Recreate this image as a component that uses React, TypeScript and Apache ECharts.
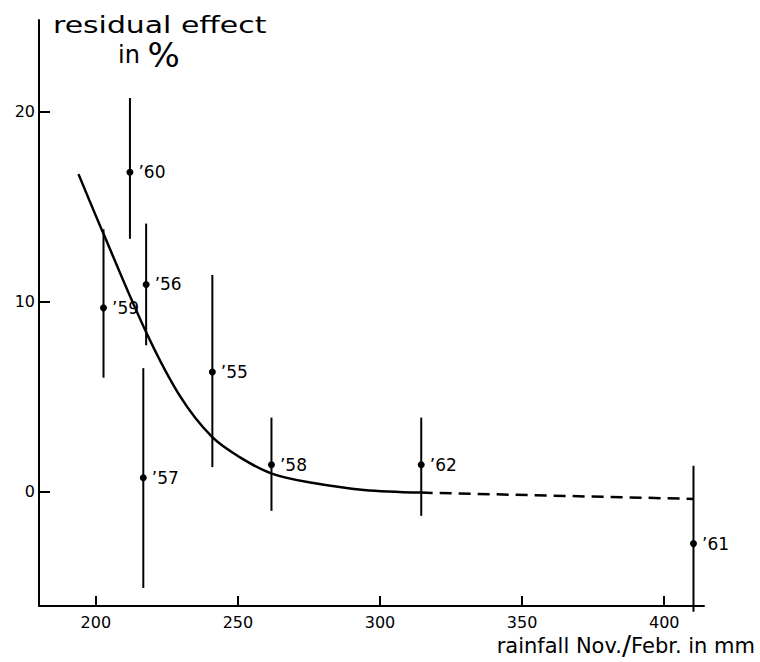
import React, { useEffect, useRef } from "react";
import * as echarts from "echarts";

const years = ["’55", "’56", "’57", "’58", "’59", "’60", "’61", "’62"];
const rainfall = [241, 217.7, 216.7, 261.8, 202.7, 212, 410.3, 314.5];
const effect = [6.3, 10.9, 0.74, 1.42, 9.67, 16.8, -2.72, 1.42];
const errLow = [1.3, 7.7, -5.05, -1.0, 6.0, 13.3, -6.3, -1.26];
const errHigh = [11.4, 14.1, 6.5, 3.9, 13.8, 20.7, 1.37, 3.9];

const curveX = [193.9, 202.7, 218, 229.8, 240.8, 250.9, 261.9, 276.6, 294.3, 314.3];
const curveY = [16.7, 13.56, 8.3, 4.99, 2.9, 1.8, 0.96, 0.46, 0.1, -0.04];
const dashX = [314.3, 410.3];
const dashY = [-0.04, -0.37];

const xTicks = [200, 250, 300, 350, 400];
const yTicks = [0, 10, 20];

const FONT = "DejaVu Sans";

export default function App() {
  const ref = useRef<HTMLDivElement>(null);
  useEffect(() => {
    if (!ref.current) return;
    const chart = echarts.init(ref.current, null, { renderer: "svg" });
    const points = rainfall.map((x, i) => ({ value: [x, effect[i]], label: { formatter: years[i] } }));
    const bars = rainfall.map((x, i) => [x, errLow[i], errHigh[i]]);
    const curve = curveX.map((x, i) => [x, curveY[i]]);
    const dash = dashX.map((x, i) => [x, dashY[i]]);
    chart.setOption({
      animation: false,
      backgroundColor: "#fff",
      grid: { left: 39, right: 56, top: 20, bottom: 56, containLabel: false, outerBoundsMode: "none" },
      xAxis: {
        type: "value",
        min: 180,
        max: 414,
        splitLine: { show: false },
        axisLine: { show: true, onZero: false, lineStyle: { color: "#000", width: 2 } },
        axisTick: { show: true, inside: true, length: 10, customValues: xTicks, lineStyle: { color: "#000", width: 2 } },
        axisLabel: { customValues: xTicks, color: "#000", fontFamily: FONT, fontSize: 16, margin: 8 },
      },
      yAxis: {
        type: "value",
        min: -6,
        max: 24.8,
        splitLine: { show: false },
        axisLine: { show: true, onZero: false, lineStyle: { color: "#000", width: 2 } },
        axisTick: { show: true, inside: true, length: 11, customValues: yTicks, lineStyle: { color: "#000", width: 2 } },
        axisLabel: { customValues: yTicks, color: "#000", fontFamily: FONT, fontSize: 16, margin: 4 },
      },
      graphic: [
        {
          type: "text",
          x: 53,
          y: 13,
          scaleX: 1.3,
          style: { text: "residual effect", fontFamily: FONT, fontSize: 23, fill: "#000" },
        },
        {
          type: "text",
          x: 118,
          y: 38,
          style: {
            text: "{a|in }{b|%}",
            rich: {
              a: { fontFamily: FONT, fontSize: 24, fill: "#000" },
              b: { fontFamily: FONT, fontSize: 34, fill: "#000" },
            },
          },
        },
        {
          type: "text",
          right: 5,
          top: 632,
          style: {
            text: "{a|rainfall Nov.}{b|/}{a|Febr. in mm}",
            rich: {
              a: { fontFamily: FONT, fontSize: 21, lineHeight: 25, fill: "#000" },
              b: { fontFamily: FONT, fontSize: 27, lineHeight: 25, fill: "#000" },
            },
          },
        },
      ],
      series: [
        {
          type: "custom",
          clip: false,
          renderItem: (params: any, api: any) => {
            const p1 = api.coord([api.value(0), api.value(1)]);
            const p2 = api.coord([api.value(0), api.value(2)]);
            return {
              type: "line",
              shape: { x1: p1[0], y1: p1[1], x2: p2[0], y2: p2[1] },
              style: { stroke: "#000", lineWidth: 2 },
            };
          },
          data: bars,
          z: 2,
        },
        {
          type: "line",
          data: curve,
          smooth: 0.35,
          symbol: "none",
          lineStyle: { color: "#000", width: 2.5 },
          z: 3,
        },
        {
          type: "line",
          data: dash,
          symbol: "none",
          lineStyle: { color: "#000", width: 2.5, type: [12, 7] },
          z: 3,
        },
        {
          type: "scatter",
          data: points,
          symbol: "circle",
          symbolSize: 7,
          itemStyle: { color: "#000", opacity: 1 },
          label: {
            show: true,
            position: "right",
            distance: 5,
            color: "#000",
            fontFamily: FONT,
            fontSize: 17,
          },
          emphasis: { disabled: true },
          z: 4,
        },
      ],
    });
    return () => chart.dispose();
  }, []);
  return <div ref={ref} style={{ width: 760, height: 662, position: "absolute", left: 0, top: 0 }} />;
}
